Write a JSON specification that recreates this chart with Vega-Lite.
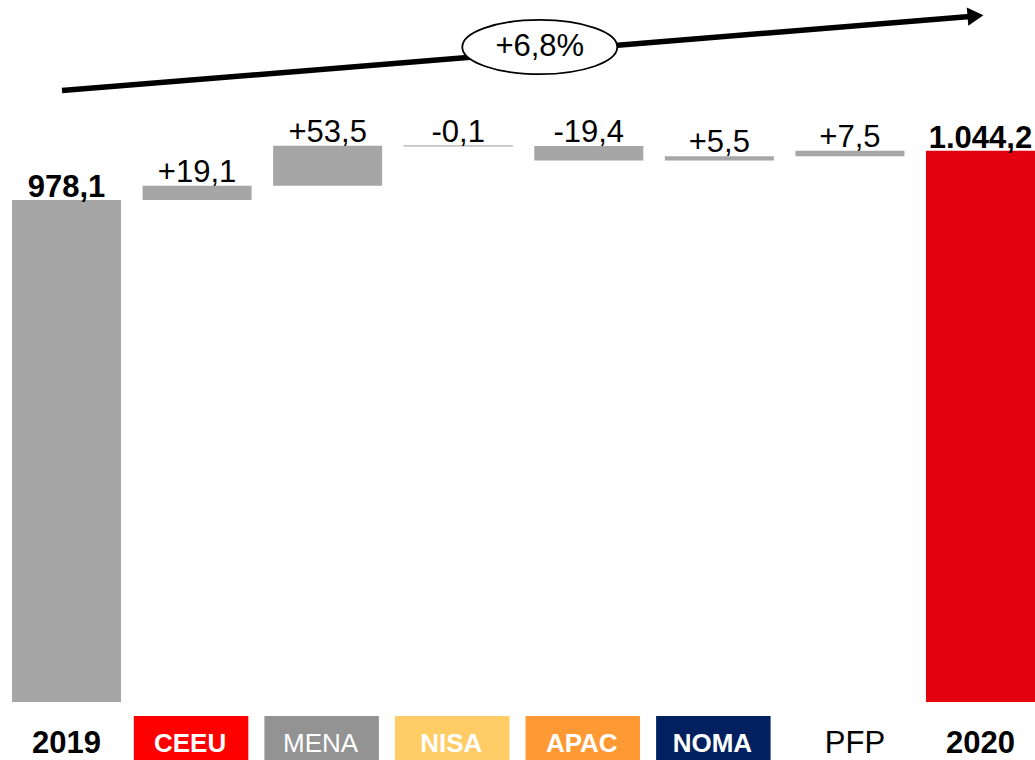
{
  "$schema": "https://vega.github.io/schema/vega-lite/v6.json",
  "background": "white",
  "padding": {"left": 12, "top": 0, "right": 0, "bottom": 0},
  "spacing": 14,
  "config": {"view": {"stroke": null}, "font": "Liberation Sans"},
  "datasets": {
    "steps": [
      {"cat": "2019", "start": 0, "end": 978.1, "top": 978.1, "label": "978,1"},
      {"cat": "CEEU", "start": 978.1, "end": 997.2, "top": 997.2, "label": "+19,1"},
      {"cat": "MENA", "start": 997.2, "end": 1050.7, "top": 1050.7, "label": "+53,5"},
      {"cat": "NISA", "start": 1050.7, "end": 1050.6, "top": 1050.7, "label": "-0,1"},
      {"cat": "APAC", "start": 1050.6, "end": 1031.2, "top": 1050.6, "label": "-19,4"},
      {"cat": "NOMA", "start": 1031.2, "end": 1036.7, "top": 1036.7, "label": "+5,5"},
      {"cat": "PFP", "start": 1036.7, "end": 1044.2, "top": 1044.2, "label": "+7,5"},
      {"cat": "2020", "start": 0, "end": 1044.2, "top": 1044.2, "label": "1.044,2"}
    ],
    "arrow": [
      {"cat": "2019", "v": 1124.8},
      {"cat": "2020", "v": 1224.9}
    ],
    "growth": [
      {"cat": "APAC", "v": 1183.2, "text": "+6,8%"}
    ],
    "regions": [
      {"cat": "2019"}, {"cat": "CEEU"}, {"cat": "MENA"}, {"cat": "NISA"},
      {"cat": "APAC"}, {"cat": "NOMA"}, {"cat": "PFP"}, {"cat": "2020"}
    ]
  },
  "vconcat": [
    {
      "width": 1023,
      "height": 702,
      "layer": [
        {
          "data": {"name": "steps"},
          "mark": {"type": "bar", "clip": true},
          "encoding": {
            "x": {"field": "cat", "type": "nominal", "sort": null, "axis": null,
                  "scale": {"domain": ["2019","CEEU","MENA","NISA","APAC","NOMA","PFP","2020"], "paddingInner": 0.165, "paddingOuter": 0}},
            "y": {"field": "start", "type": "quantitative", "axis": null,
                  "scale": {"domain": [305, 1246.3], "nice": false, "zero": false, "clamp": true}},
            "y2": {"field": "end"},
            "color": {"condition": {"test": "datum.cat === '2020'", "value": "#E3000F"}, "value": "#A6A6A6"},
            "stroke": {"condition": {"test": "datum.cat === 'NISA'", "value": "#BFBFBF"}, "value": "transparent"}
          }
        },
        {
          "data": {"name": "steps"},
          "transform": [{"filter": "datum.cat !== '2019' && datum.cat !== '2020'"}],
          "mark": {"type": "text", "fontSize": 31, "baseline": "alphabetic", "dy": -4, "color": "black"},
          "encoding": {
            "x": {"field": "cat", "type": "nominal", "sort": null},
            "y": {"field": "top", "type": "quantitative"},
            "text": {"field": "label"}
          }
        },
        {
          "data": {"name": "steps"},
          "transform": [{"filter": "datum.cat === '2019' || datum.cat === '2020'"}],
          "mark": {"type": "text", "fontSize": 31, "fontWeight": "bold", "baseline": "alphabetic", "dy": -3, "color": "black"},
          "encoding": {
            "x": {"field": "cat", "type": "nominal", "sort": null},
            "y": {"field": "top", "type": "quantitative"},
            "text": {"field": "label"}
          }
        },
        {
          "data": {"name": "arrow"},
          "mark": {"type": "line", "color": "black", "strokeWidth": 5.5, "xOffset": -4.5},
          "encoding": {
            "x": {"field": "cat", "type": "nominal", "sort": null},
            "y": {"field": "v", "type": "quantitative"}
          }
        },
        {
          "data": {"name": "arrow"},
          "transform": [{"filter": "datum.cat === '2020'"}],
          "mark": {"type": "point", "shape": "triangle-right", "filled": true, "color": "black", "opacity": 1, "size": 340, "angle": -4.7, "xOffset": -5},
          "encoding": {
            "x": {"field": "cat", "type": "nominal", "sort": null},
            "y": {"field": "v", "type": "quantitative"}
          }
        },
        {
          "data": {"name": "growth"},
          "mark": {"type": "point", "shape": "M -1 0 A 1 0.35 0 1 0 1 0 A 1 0.35 0 1 0 -1 0 Z", "filled": true, "fill": "white", "stroke": "black", "strokeWidth": 1.8, "opacity": 1, "size": 24025, "xOffset": -49},
          "encoding": {
            "x": {"field": "cat", "type": "nominal", "sort": null},
            "y": {"field": "v", "type": "quantitative"}
          }
        },
        {
          "data": {"name": "growth"},
          "mark": {"type": "text", "fontSize": 31, "baseline": "middle", "color": "black", "xOffset": -49},
          "encoding": {
            "x": {"field": "cat", "type": "nominal", "sort": null},
            "y": {"field": "v", "type": "quantitative"},
            "text": {"field": "text"}
          }
        }
      ]
    },
    {
      "width": 1023,
      "height": 44,
      "data": {"name": "regions"},
      "encoding": {
        "x": {"field": "cat", "type": "nominal", "sort": null, "axis": null,
              "scale": {"domain": ["2019","CEEU","MENA","NISA","APAC","NOMA","PFP","2020"], "paddingInner": 0.165, "paddingOuter": 0}}
      },
      "layer": [
        {
          "transform": [{"filter": {"field": "cat", "oneOf": ["CEEU","MENA","NISA","APAC","NOMA"]}}],
          "mark": {"type": "bar", "width": {"band": 1.05}, "xOffset": -6},
          "encoding": {
            "color": {"field": "cat", "type": "nominal", "legend": null,
                      "scale": {"domain": ["CEEU","MENA","NISA","APAC","NOMA"], "range": ["#FF0000","#939393","#FFCC66","#FF9933","#002060"]}}
          }
        },
        {
          "transform": [{"filter": {"field": "cat", "oneOf": ["CEEU","NISA","APAC","NOMA"]}}],
          "mark": {"type": "text", "fontSize": 26, "fontWeight": "bold", "color": "white", "baseline": "alphabetic", "dy": 14, "xOffset": -7},
          "encoding": {"text": {"field": "cat"}}
        },
        {
          "transform": [{"filter": {"field": "cat", "oneOf": ["MENA"]}}],
          "mark": {"type": "text", "fontSize": 26, "color": "white", "baseline": "alphabetic", "dy": 14, "xOffset": -7},
          "encoding": {"text": {"field": "cat"}}
        },
        {
          "transform": [{"filter": {"field": "cat", "oneOf": ["2019","2020"]}}],
          "mark": {"type": "text", "fontSize": 31, "fontWeight": "bold", "color": "black", "baseline": "alphabetic", "dy": 15},
          "encoding": {"text": {"field": "cat"}}
        },
        {
          "transform": [{"filter": {"field": "cat", "oneOf": ["PFP"]}}],
          "mark": {"type": "text", "fontSize": 31, "color": "black", "baseline": "alphabetic", "dy": 15, "xOffset": 5},
          "encoding": {"text": {"field": "cat"}}
        }
      ]
    }
  ]
}
